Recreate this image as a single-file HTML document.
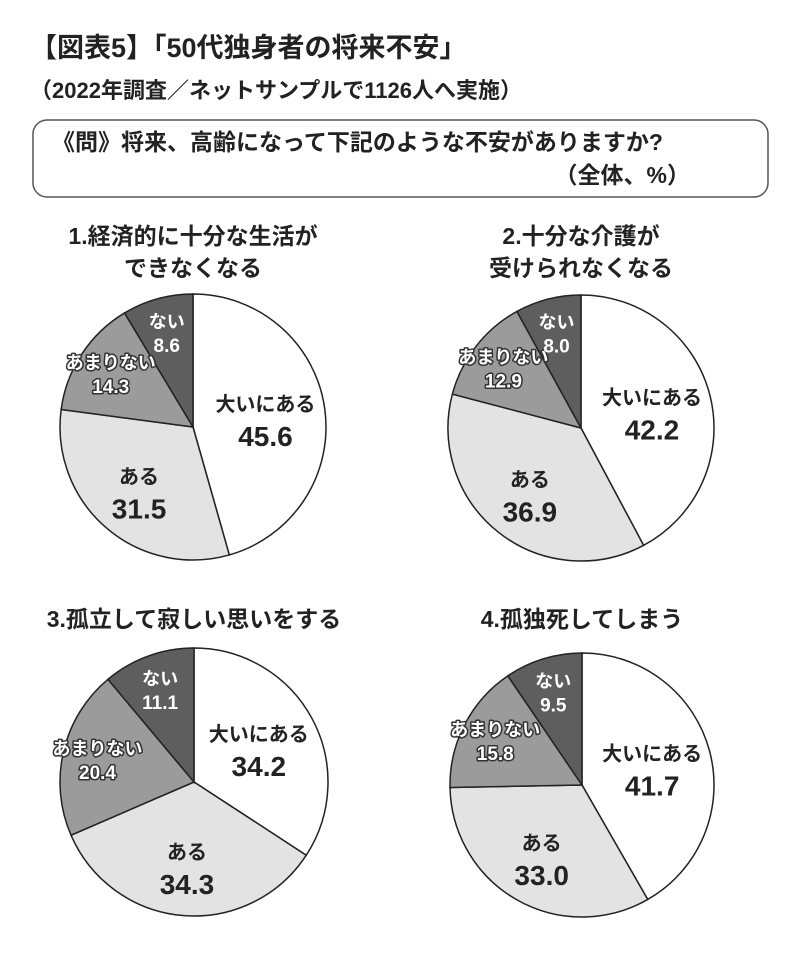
<!DOCTYPE html>
<html><head><meta charset="utf-8">
<style>
body{margin:0;background:#fff;width:800px;height:966px;overflow:hidden;font-family:"Liberation Sans","Noto Sans CJK JP",sans-serif;color:#222;}
svg text{font-family:"Liberation Sans","Noto Sans CJK JP",sans-serif;}
</style></head><body>
<svg width="800" height="966" viewBox="0 0 800 966">
<text x="30" y="57" font-size="27" font-weight="bold" fill="#222">【図表5】「50代独身者の将来不安」</text>
<text x="30" y="98" font-size="22" font-weight="bold" fill="#222">（2022年調査／ネットサンプルで1126人へ実施）</text>
<rect x="33" y="120" width="735" height="77" rx="14" fill="#fff" stroke="#555" stroke-width="1.5"/>
<text x="52" y="150" font-size="23" font-weight="bold" fill="#222">《問》将来、高齢になって下記のような不安がありますか?</text>
<text x="690" y="183" font-size="23" font-weight="bold" fill="#222" text-anchor="end">（全体、%）</text>
<g id="pies"></g>
</svg>
<script>
const categories = ["大いにある","ある","あまりない","ない"];
const pieTitles = [["1.経済的に十分な生活が","できなくなる"],["2.十分な介護が","受けられなくなる"],["3.孤立して寂しい思いをする"],["4.孤独死してしまう"]];
const values1 = [45.6, 31.5, 14.3, 8.6];
const values2 = [42.2, 36.9, 12.9, 8.0];
const values3 = [34.2, 34.3, 20.4, 11.1];
const values4 = [41.7, 33.0, 15.8, 9.5];
const allValues = [values1, values2, values3, values4];

const layouts = [
  {cx:193, cy:427, r:133, ty:[244,276]},
  {cx:581, cy:428, r:133, ty:[244,276]},
  {cx:194, cy:782, r:134, ty:[627]},
  {cx:582, cy:785, r:132, ty:[627]}
];
const fills = ["#ffffff","#e3e3e3","#9b9b9b","#5e5e5e"];
const labelR = [0.55, 0.62, 0.74, 0.74];
const NS = "http://www.w3.org/2000/svg";
const root = document.getElementById("pies");
function pt(cx,cy,r,frac){const a=frac*2*Math.PI;return [cx+r*Math.sin(a), cy-r*Math.cos(a)];}
function mk(tag, attrs){const e=document.createElementNS(NS,tag);for(const k in attrs)e.setAttribute(k,attrs[k]);return e;}

allValues.forEach((vals, pi) => {
  const L = layouts[pi];
  const g = mk("g", {});
  
  
  root.appendChild(g);
  pieTitles[pi].forEach((t, ti) => {
    const tx = mk("text", {x:L.cx, y:L.ty[ti], "font-size":23, "font-weight":"bold", "text-anchor":"middle", fill:"#222"});
    tx.textContent = t;
    
    
    g.appendChild(tx);
  });
  const total = vals.reduce((a,b)=>a+b,0);
  let acc = 0;
  vals.forEach((v, i) => {
    const f0 = acc/total, f1 = (acc+v)/total;
    const p0 = pt(L.cx,L.cy,L.r,f0), p1 = pt(L.cx,L.cy,L.r,f1);
    const large = (f1-f0) > 0.5 ? 1 : 0;
    const path = mk("path", {d:`M${L.cx},${L.cy} L${p0[0]},${p0[1]} A${L.r},${L.r} 0 ${large} 1 ${p1[0]},${p1[1]} Z`, fill:fills[i], stroke:"#222", "stroke-width":1.5});
    
    
    g.appendChild(path);
    acc += v;
  });
  acc = 0;
  vals.forEach((v, i) => {
    const mid = (acc + v/2)/total;
    acc += v;
    const c = pt(L.cx, L.cy, L.r*labelR[i], mid);
    const big = i < 2;
    const light = i >= 2;
    const common = {"text-anchor":"middle", fill:light?"#fff":"#222", "font-weight":"bold"};
    if (i===2){common.stroke="#333";common["stroke-width"]="3";common["paint-order"]="stroke";common["stroke-linejoin"]="round";}
    const lab = mk("text", Object.assign({x:c[0], y:c[1]-(big?6:4), "font-size":big?20:18}, common));
    lab.textContent = categories[i];
    
    
    g.appendChild(lab);
    const num = mk("text", Object.assign({x:c[0], y:c[1]+(big?29:20), "font-size":big?28:19}, common));
    num.textContent = v.toFixed(1);
    
    
    g.appendChild(num);
  });
});
</script>
</body></html>
